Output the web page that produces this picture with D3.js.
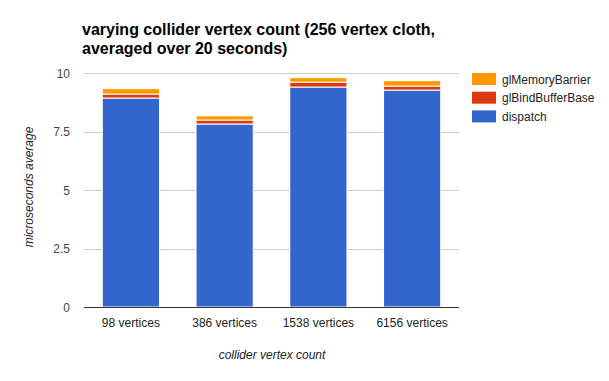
<!DOCTYPE html>
<html><head><meta charset="utf-8">
<script src="https://cdn.jsdelivr.net/npm/d3@7"></script>
<style>body{margin:0;background:#fff;font-family:Arial,"Liberation Sans",sans-serif}</style>
</head><body><svg id="c" width="609" height="381"></svg>
<script>
const categories = ["98 vertices","386 vertices","1538 vertices","6156 vertices"];
const seriesNames = ["dispatch","glBindBufferBase","glMemoryBarrier"];
const dispatch = [8.93, 7.82, 9.40, 9.27];
const glBindBufferBase = [0.17, 0.17, 0.21, 0.17];
const glMemoryBarrier = [0.23, 0.18, 0.19, 0.23];
const yTicks = [0, 2.5, 5, 7.5, 10];
const colors = ["#3366cc","#dc3912","#ff9900"];

const svg = d3.select("#c");
const m = {l:84, r:150, t:73, b:74};
const W = 609, H = 381;
const x = d3.scaleBand().domain(categories).range([m.l, W-m.r]).paddingInner(0.39).paddingOuter(0.195);
const y = d3.scaleLinear().domain([0,10]).range([H-m.b, m.t]);

// gridlines
svg.append("g").selectAll("line").data(yTicks.filter(d=>d>0)).join("line")
  .attr("x1", m.l).attr("x2", W-m.r).attr("y1", d=>Math.round(y(d))+0.5).attr("y2", d=>Math.round(y(d))+0.5)
  .attr("stroke","#cccccc");
// y tick labels
svg.append("g").selectAll("text").data(yTicks).join("text")
  .attr("x", 70).attr("y", d=>y(d)+4.5).attr("text-anchor","end")
  .attr("font-size",12).attr("fill","#444").text(d=>d);

const table = categories.map((c,i)=>({cat:c, dispatch:dispatch[i], glBindBufferBase:glBindBufferBase[i], glMemoryBarrier:glMemoryBarrier[i]}));
const stacked = d3.stack().keys(seriesNames)(table);
svg.append("g").selectAll("g").data(stacked).join("g").attr("fill",(d,i)=>colors[i])
  .selectAll("rect").data(d=>d).join("rect")
  .attr("x", d=>x(d.data.cat)).attr("width", x.bandwidth())
  .attr("y", d=>y(d[1])).attr("height", d=>y(d[0])-y(d[1]))
  .attr("stroke","#fff").attr("stroke-width",1);

// baseline
svg.append("line").attr("x1",m.l).attr("x2",W-m.r).attr("y1",Math.round(y(0))+0.5).attr("y2",Math.round(y(0))+0.5).attr("stroke","#333");

// x labels
svg.append("g").selectAll("text").data(categories).join("text")
  .attr("x", d=>x(d)+x.bandwidth()/2).attr("y", 327).attr("text-anchor","middle")
  .attr("font-size",12).attr("fill","#222").text(d=>d);

// title
svg.append("text").attr("x",82).attr("y",35).attr("font-size",16).attr("font-weight","bold").attr("fill","#000")
  .text("varying collider vertex count (256 vertex cloth,");
svg.append("text").attr("x",82).attr("y",54).attr("font-size",16).attr("font-weight","bold").attr("fill","#000")
  .text("averaged over 20 seconds)");

// axis titles
svg.append("text").attr("x",272).attr("y",359).attr("text-anchor","middle").attr("font-size",12)
  .attr("font-style","italic").attr("fill","#222").text("collider vertex count");
svg.append("text").attr("transform","translate(33,187) rotate(-90)").attr("text-anchor","middle").attr("font-size",12)
  .attr("font-style","italic").attr("fill","#222").text("microseconds average");

// legend
const legendOrder = [2,1,0];
const lg = svg.append("g").selectAll("g").data(legendOrder).join("g")
  .attr("transform",(d,i)=>`translate(472,${73+i*18.7})`);
lg.append("rect").attr("width",24).attr("height",12).attr("fill",d=>colors[d]);
lg.append("text").attr("x",30).attr("y",10.5).attr("font-size",12).attr("fill","#222").text(d=>seriesNames[d]);
</script></body></html>
